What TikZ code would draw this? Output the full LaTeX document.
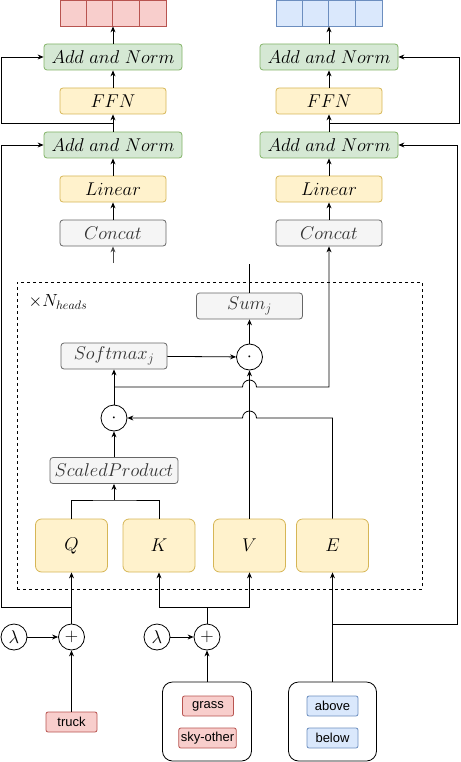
\documentclass[tikz,border=0pt]{standalone}
\usepackage{fix-cm}
\usepackage{fontspec}
\newfontfamily\chipfont{Liberation Sans}
\usetikzlibrary{arrows.meta,positioning}
\definecolor{redfill}{HTML}{F8CECC}
\definecolor{redline}{HTML}{B85450}
\definecolor{bluefill}{HTML}{DAE8FC}
\definecolor{blueline}{HTML}{6C8EBF}
\definecolor{greenfill}{HTML}{D5E8D4}
\definecolor{greenline}{HTML}{82B366}
\definecolor{yellowfill}{HTML}{FFF2CC}
\definecolor{yellowline}{HTML}{D6B656}
\definecolor{grayfill}{HTML}{F5F5F5}
\definecolor{grayline}{HTML}{666666}

\begin{document}
\begin{tikzpicture}[x=1pt, y=-1pt, node distance=44pt, line width=0.8pt,
    >={Stealth[length=6pt,width=5pt]},
    mathfont/.style={font=\fontsize{18.5}{20}\selectfont},
    addnorm/.style={rectangle, draw=greenline, fill=greenfill, rounded corners=3pt, minimum width=138pt, minimum height=26pt, inner sep=0pt, mathfont},
    ffnbox/.style={rectangle, draw=yellowline, fill=yellowfill, rounded corners=3pt, minimum width=106pt, minimum height=26pt, inner sep=0pt, mathfont},
    opbox/.style={rectangle, draw=grayline, fill=grayfill, text=black!80, rounded corners=3pt, minimum width=106pt, minimum height=26pt, inner sep=0pt, mathfont},
    tokenbox/.style={rectangle, draw=yellowline, fill=yellowfill, rounded corners=6pt, minimum width=72pt, minimum height=53pt, mathfont},
    circ/.style={circle, draw, fill=white, minimum size=26pt, inner sep=0pt, mathfont},
    vecbox/.style={rectangle, minimum width=106pt, minimum height=26pt},
    chip/.style={rectangle, rounded corners=2pt, minimum width=51pt, minimum height=20pt, inner sep=2pt, font=\chipfont\fontsize{13}{15}\selectfont},
    redchip/.style={chip, draw=redline, fill=redfill},
    bluechip/.style={chip, draw=blueline, fill=bluefill},
    groupbox/.style={rectangle, draw, rounded corners=10pt, minimum height=79pt}]
    \useasboundingbox (0,0) rectangle (460,762);

    % left decoder column
    \node[opbox] (lconcat) at (113,233) {$Concat$};
    \node[ffnbox, above of=lconcat] (llinear) {$Linear$};
    \node[addnorm, above of=llinear] (ladd1) {$Add\ and\ Norm$};
    \node[ffnbox, above of=ladd1] (lffn) {$FFN$};
    \node[addnorm, above of=lffn] (ladd2) {$Add\ and\ Norm$};
    \node[vecbox, draw=redline, fill=redfill, above of=ladd2] (lvec) {};
    \foreach \i in {1,2,3}
        \draw[redline] ([xshift=\i*26.5pt]lvec.south west) -- ([xshift=\i*26.5pt]lvec.north west);

    % right decoder column
    \node[opbox] (rconcat) at (329,233) {$Concat$};
    \node[ffnbox, above of=rconcat] (rlinear) {$Linear$};
    \node[addnorm, above of=rlinear] (radd1) {$Add\ and\ Norm$};
    \node[ffnbox, above of=radd1] (rffn) {$FFN$};
    \node[addnorm, above of=rffn] (radd2) {$Add\ and\ Norm$};
    \node[vecbox, draw=blueline, fill=bluefill, above of=radd2] (rvec) {};
    \foreach \i in {1,2,3}
        \draw[blueline] ([xshift=\i*26.5pt]rvec.south west) -- ([xshift=\i*26.5pt]rvec.north west);

    \draw[->] (lconcat) -- (llinear);
    \draw[->] (llinear) -- (ladd1);
    \draw[->] (ladd1) -- (lffn);
    \draw[->] (lffn) -- (ladd2);
    \draw[->] (ladd2) -- (lvec);
    \draw[->] (rconcat) -- (rlinear);
    \draw[->] (rlinear) -- (radd1);
    \draw[->] (radd1) -- (rffn);
    \draw[->] (rffn) -- (radd2);
    \draw[->] (radd2) -- (rvec);

    % attention heads
    \node[draw, dashed, dash pattern=on 3pt off 3pt, minimum width=405pt, minimum height=307pt] (heads) at (219.5,435.5) {};
    \node[anchor=west, font=\fontsize{17.5}{19}\selectfont] (nheads) at (25,302) {$\times N_{heads}$};
    \node[opbox] (sum) at (249.5,306) {$Sum_j$};
    \node[circ] (mul2) at (249.5,357) {$\cdot$};
    \node[opbox] (softmax) at (114,356) {$Softmax_j$};
    \node[circ] (mul1) at (114,418) {$\cdot$};
    \node[opbox, minimum width=128pt] (scaled) at (114,470.5) {$ScaledProduct$};
    \node[tokenbox] (q) at (71.5,545.5) {$Q$};
    \node[tokenbox] (k) at (159,545.5) {$K$};
    \node[tokenbox] (v) at (249.5,545.5) {$V$};
    \node[tokenbox] (e) at (332.5,545.5) {$E$};

    \coordinate (qk) at (114,500);
    \draw (q) |- (qk) -| (k);
    \draw[->] (qk) -- (scaled);
    \draw[->] (scaled) -- (mul1);
    \draw[->] (mul1) -- (softmax);
    \draw[->] (softmax) -- (mul2);
    \draw[->] (mul2) -- (sum);
    \draw[->] (v) -- (mul2);
    \coordinate (attn) at (114,387);
    \draw[->] (attn) -- (242.5,387) arc[start angle=180, end angle=0, radius=7pt] -- (329,387) -- (rconcat);
    \draw[->] (e) |- (256.5,418) arc[start angle=0, end angle=180, radius=7pt] -- (mul1);
    \coordinate (sumout) at (249.5,264);
    \draw (sum) -- (sumout);
    \coordinate (lin) at (113,263);
    \draw[->, black!70] (lin) -- (lconcat);

    % inputs
    \node[circ] (lam1) at (14,637) {$\lambda$};
    \node[circ] (add1) at (71.5,637) {$+$};
    \node[circ] (lam2) at (157,637) {$\lambda$};
    \node[circ] (add2) at (207,637) {$+$};
    \node[redchip] (truck) at (71.5,722) {truck};
    \node[groupbox, minimum width=89pt] (objs) at (207,721.5) {};
    \node[redchip] (grass) at (208,706) {grass};
    \node[redchip] (sky) at (207.5,738) {sky-other};
    \node[groupbox, minimum width=88pt] (rels) at (332.5,721.5) {};
    \node[bluechip] (above) at (332.5,706) {above};
    \node[bluechip] (below) at (332.5,738) {below};

    \draw[->] (truck) -- (add1);
    \draw[->] (lam1) -- (add1);
    \draw[->] (add1) -- (q);
    \draw[->] (lam2) -- (add2);
    \draw[->] (objs) -- (add2);
    \coordinate (kv) at (207,607);
    \draw (add2) -- (kv);
    \draw[->] (kv) -| (k);
    \draw[->] (kv) -| (v);
    \draw[->] (rels) -- (e);

    % residual connections
    \coordinate (lres) at (113,123);
    \draw[->] (lres) -- (1,123) |- (ladd2);
    \coordinate (qres) at (71.5,607);
    \draw[->] (qres) -- (1,607) |- (ladd1);
    \coordinate (rres) at (329,123);
    \draw[->] (rres) -- (459,123) |- (radd2);
    \coordinate (eres) at (332.5,624);
    \draw[->] (eres) -- (457,624) |- (radd1);
\end{tikzpicture}
\end{document}
